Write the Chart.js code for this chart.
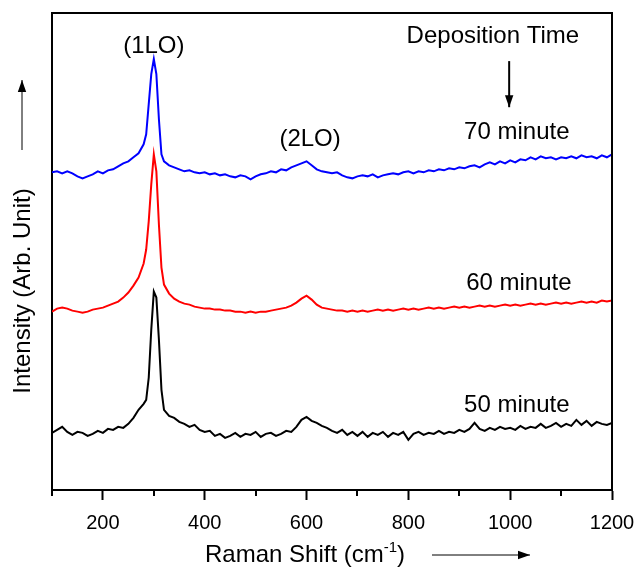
<!DOCTYPE html>
<html>
<head>
<meta charset="utf-8">
<script src="https://cdn.jsdelivr.net/npm/chart.js@4.4.1/dist/chart.umd.min.js"></script>
<style>
  body { margin: 0; background: #fff; }
  canvas { display: block; }
</style>
</head>
<body>
<canvas id="raman" width="636" height="568"></canvas>
<script>
// Raman shift (cm-1), shared by the three spectra
const shift = [
  100, 110, 120, 130, 140, 150, 160, 170, 180, 190, 200, 210, 220, 230, 240, 250, 260, 270,
  280, 285, 290, 295, 300, 305, 310, 315, 320,
  330, 340, 350, 360, 370, 380, 390, 400, 410, 420, 430, 440, 450, 460, 470, 480, 490, 500,
  510, 520, 530, 540, 550, 560, 570, 580, 590, 600, 610, 620, 630, 640, 650, 660, 670, 680,
  690, 700, 710, 720, 730, 740, 750, 760, 770, 780, 790, 800, 810, 820, 830, 840, 850, 860,
  870, 880, 890, 900, 910, 920, 930, 940, 950, 960, 970, 980, 990, 1000, 1010, 1020, 1030,
  1040, 1050, 1060, 1070, 1080, 1090, 1100, 1110, 1120, 1130, 1140, 1150, 1160, 1170, 1180,
  1190, 1200
];

// intensities (arb. unit, curves offset as in the figure)
const min50 = [
  57, 60, 63, 58, 55, 58, 57, 54, 56, 59, 57, 61, 60, 63, 62, 66, 72, 80,
  86, 90, 112, 160, 198, 192, 150, 100, 80,
  74, 72, 68, 66, 63, 65, 60, 58, 59, 54, 56, 52, 54, 57, 53, 56, 55, 58,
  53, 56, 57, 54, 56, 59, 58, 63, 70, 73, 69, 67, 64, 62, 59, 57, 60, 55,
  58, 54, 58, 53, 57, 55, 58, 53, 57, 55, 58, 50, 56, 58, 55, 57, 56, 59,
  56, 58, 57, 60, 58, 61, 67, 61, 59, 62, 60, 63, 61, 62, 60, 64, 61,
  63, 62, 66, 62, 64, 67, 63, 66, 64, 70, 65, 69, 64, 68, 66,
  65, 67
];

const min60 = [
  178, 181, 182, 181, 179, 178, 177, 178, 180, 181, 182, 184, 186, 188, 192, 197, 204, 212,
  226, 240, 268, 305, 335, 318, 265, 222, 205,
  196, 191, 188, 186, 185, 183, 182, 181, 181, 180, 180, 179, 179, 178, 178, 177, 178, 177,
  178, 178, 179, 180, 181, 182, 184, 187, 191, 194, 190, 185, 182, 181, 180, 179, 179, 178,
  179, 178, 179, 178, 179, 180, 179, 180, 179, 180, 181, 180, 181, 180, 181, 182, 181, 182,
  181, 182, 183, 182, 183, 182, 183, 184, 183, 184, 183, 184, 185, 184, 185, 184, 185,
  186, 185, 186, 185, 186, 187, 186, 187, 186, 187, 188, 187, 188, 187, 189,
  188, 189
];

const min70 = [
  317, 318, 316, 318, 316, 313, 311, 313, 315, 318, 316, 319, 320, 323, 326, 328, 332, 336,
  345, 355, 385, 415, 430, 415, 370, 335, 328,
  324, 322, 320, 318, 319, 317, 316, 317, 315, 316, 314, 315, 313, 312, 314, 313, 310, 313,
  315, 316, 318, 317, 320, 319, 322, 324, 326, 328, 324, 320, 318, 317, 316, 317, 314, 312,
  311, 313, 314, 313, 315, 312, 314, 315, 316, 315, 317, 318, 316, 318, 317, 319, 318, 320,
  319, 321, 320, 322, 321, 323, 324, 322, 325, 327, 325, 328, 326, 329, 327, 330, 329,
  332, 330, 333, 331, 332, 330, 332, 331, 333, 331, 334, 332, 333, 331, 334,
  332, 335
];

const seriesLabels = ['50 minute', '60 minute', '70 minute'];
const seriesColors = ['#000000', '#ff0000', '#0000ff'];
const xTickValues = [200, 400, 600, 800, 1000, 1200];

const FONT = "'Liberation Sans', Arial, sans-serif";

const toPoints = (vals) => vals.map((v, i) => ({ x: shift[i], y: v }));

// text labels inside the plot, placed in data coordinates
const notes = [
  { text: '(1LO)', x: 300, y: 443 },
  { text: 'Deposition Time', x: 966, y: 453 },
  { text: '(2LO)', x: 607, y: 350 },
  { text: seriesLabels[2], x: 1013, y: 357 },
  { text: seriesLabels[1], x: 1017, y: 206 },
  { text: seriesLabels[0], x: 1013, y: 84 }
];

function arrow(ctx, x1, y1, x2, y2, head) {
  ctx.beginPath();
  ctx.moveTo(x1, y1);
  ctx.lineTo(x2, y2);
  ctx.stroke();
  const a = Math.atan2(y2 - y1, x2 - x1);
  ctx.beginPath();
  ctx.moveTo(x2, y2);
  ctx.lineTo(x2 - head * Math.cos(a) + head * 0.35 * Math.sin(a), y2 - head * Math.sin(a) - head * 0.35 * Math.cos(a));
  ctx.lineTo(x2 - head * Math.cos(a) - head * 0.35 * Math.sin(a), y2 - head * Math.sin(a) + head * 0.35 * Math.cos(a));
  ctx.closePath();
  ctx.fill();
}

const decorPlugin = {
  id: 'decor',
  afterDraw(chart) {
    const ctx = chart.ctx;
    const xs = chart.scales.x;
    const ys = chart.scales.y;
    const area = chart.chartArea;
    ctx.save();
    ctx.fillStyle = '#000';
    ctx.strokeStyle = '#000';

    // frame top and right
    ctx.lineWidth = 2;
    ctx.beginPath();
    ctx.moveTo(area.left, area.top);
    ctx.lineTo(area.right, area.top);
    ctx.lineTo(area.right, area.bottom);
    ctx.stroke();

    // minor ticks
    ctx.lineWidth = 2;
    for (let v = 100; v <= 1100; v += 200) {
      const px = Math.round(xs.getPixelForValue(v));
      ctx.beginPath();
      ctx.moveTo(px, area.bottom);
      ctx.lineTo(px, area.bottom + 6);
      ctx.stroke();
    }

    // notes
    ctx.font = '24px ' + FONT;
    ctx.textAlign = 'center';
    ctx.textBaseline = 'middle';
    notes.forEach(n => {
      ctx.fillText(n.text, xs.getPixelForValue(n.x), ys.getPixelForValue(n.y));
    });

    // deposition time arrow
    ctx.lineWidth = 2;
    arrow(ctx, xs.getPixelForValue(998), ys.getPixelForValue(428),
               xs.getPixelForValue(998), ys.getPixelForValue(382), 12);

    // y title + arrow
    ctx.save();
    ctx.translate(23, 291);
    ctx.rotate(-Math.PI / 2);
    ctx.fillText('Intensity (Arb. Unit)', 0, 0);
    ctx.restore();
    ctx.lineWidth = 1;
    arrow(ctx, 22, 150, 22, 80, 12);

    // x title with superscript
    ctx.textAlign = 'left';
    ctx.textBaseline = 'alphabetic';
    let tx = 205;
    const ty = 562;
    ctx.font = '24px ' + FONT;
    const part1 = 'Raman Shift (cm';
    ctx.fillText(part1, tx, ty);
    tx += ctx.measureText(part1).width;
    ctx.font = '15px ' + FONT;
    ctx.fillText('-1', tx, ty - 10);
    tx += ctx.measureText('-1').width;
    ctx.font = '24px ' + FONT;
    ctx.fillText(')', tx, ty);
    ctx.lineWidth = 1;
    arrow(ctx, 432, 555, 530, 555, 12);

    ctx.restore();
  }
};

new Chart(document.getElementById('raman'), {
  type: 'line',
  data: {
    datasets: [
      { label: seriesLabels[0], data: toPoints(min50), borderColor: seriesColors[0] },
      { label: seriesLabels[1], data: toPoints(min60), borderColor: seriesColors[1] },
      { label: seriesLabels[2], data: toPoints(min70), borderColor: seriesColors[2] }
    ]
  },
  options: {
    responsive: false,
    animation: false,
    layout: { padding: { top: 13, right: 24, left: 0, bottom: 0 } },
    elements: {
      point: { radius: 0 },
      line: { borderWidth: 2, tension: 0 }
    },
    plugins: {
      legend: { display: false },
      tooltip: { enabled: false }
    },
    scales: {
      x: {
        type: 'linear',
        min: 100,
        max: 1200,
        afterBuildTicks: (scale) => {
          scale.ticks = xTickValues.map(v => ({ value: v }));
        },
        afterFit: (scale) => {
          scale.height = 78;
          scale.paddingRight = 0;
          scale.paddingLeft = 0;
        },
        ticks: {
          font: { family: FONT, size: 20 },
          color: '#000',
          padding: 11,
          maxRotation: 0,
          callback: (v) => String(v)
        },
        grid: {
          drawOnChartArea: false,
          drawTicks: true,
          tickLength: 10,
          tickWidth: 2,
          tickColor: '#000'
        },
        border: { display: true, color: '#000', width: 2 }
      },
      y: {
        min: 0,
        max: 476,
        afterFit: (scale) => { scale.width = 52; },
        ticks: { display: false },
        grid: { display: false, drawTicks: false },
        border: { display: true, color: '#000', width: 2 }
      }
    }
  },
  plugins: [decorPlugin]
});
</script>
</body>
</html>
